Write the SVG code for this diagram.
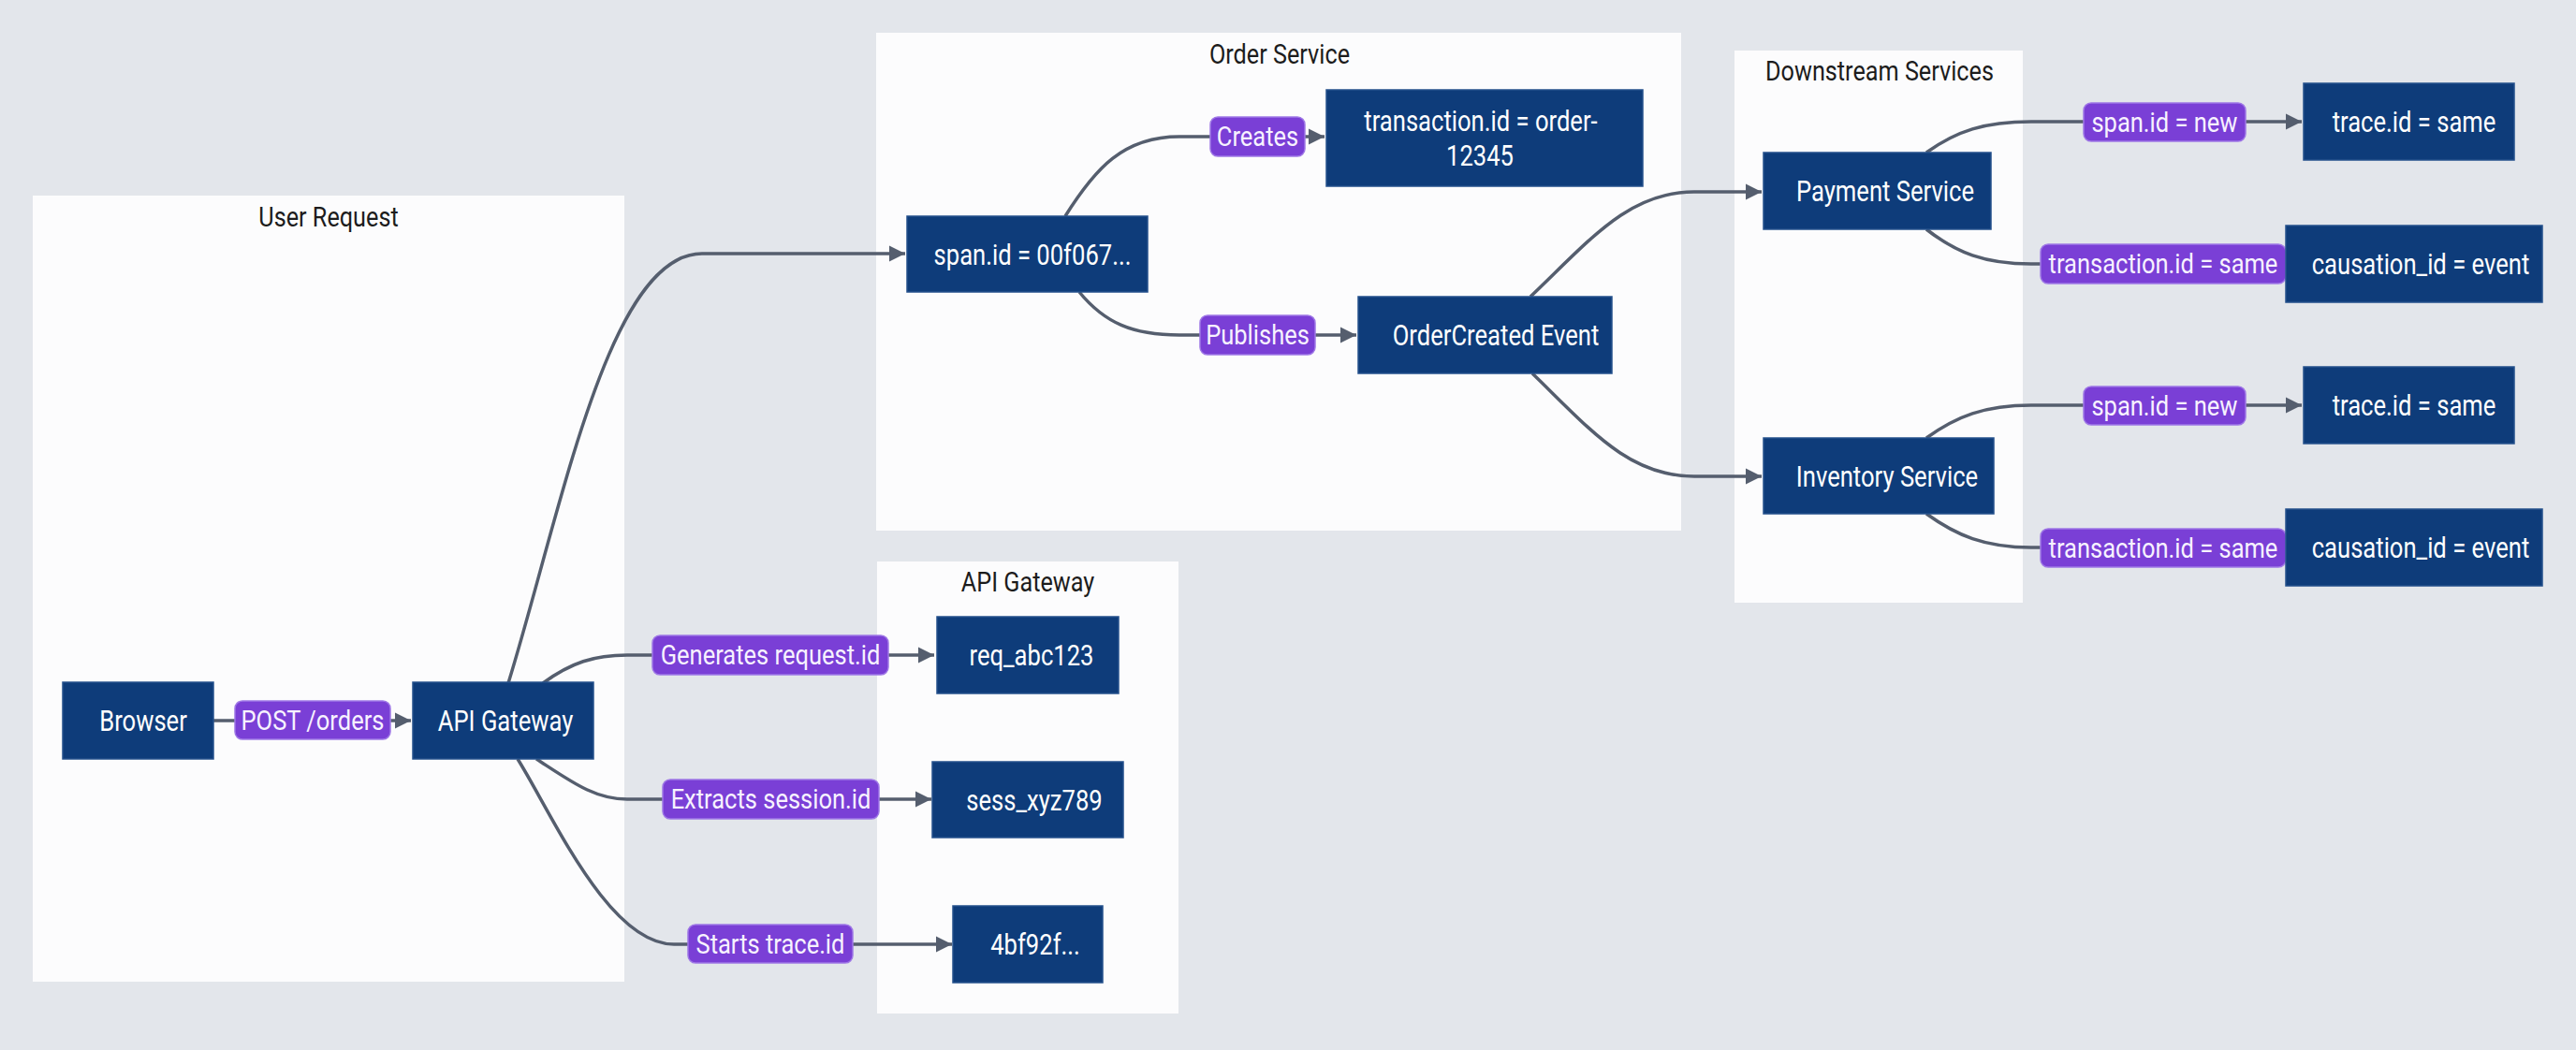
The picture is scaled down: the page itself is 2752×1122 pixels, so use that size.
<svg xmlns="http://www.w3.org/2000/svg" width="2752" height="1122" viewBox="0 0 2752 1122">
<style>
.bg{fill:#e3e6eb}
.ct{fill:#fcfcfd}
.ctt{font-family:Roboto,"Liberation Sans",sans-serif;font-size:29px;fill:#1c1c1c;text-anchor:middle;transform-box:fill-box;transform-origin:center;transform:scaleX(0.87)}
.nd{fill:#0e3c7a;stroke:#24508c;stroke-width:1.5}
.nt{font-family:Roboto,"Liberation Sans",sans-serif;font-size:32px;fill:#ffffff;text-anchor:middle;transform-box:fill-box;transform-origin:center;transform:scaleX(0.8)}
.lb{fill:#7a3fd6;stroke:#9f78e6;stroke-width:1.5}
.lt{font-family:Roboto,"Liberation Sans",sans-serif;font-size:30px;fill:#f7f2ff;text-anchor:middle;transform-box:fill-box;transform-origin:center;transform:scaleX(0.85)}
.cn{fill:none;stroke:#555e6e;stroke-width:3.5}
</style>
<defs>
<marker id="arr" viewBox="0 0 10 10" refX="10" refY="5" markerWidth="5" markerHeight="5" orient="auto" markerUnits="strokeWidth">
<path d="M0,0 L10,5 L0,10 z" fill="#555e6e"/>
</marker>
</defs>
<rect class="bg" x="0" y="0" width="2752" height="1122"/>

<g id="containers">
<g id="c-user-request"><rect class="ct" x="35" y="209" width="632" height="840"/><text class="ctt" x="351" y="242">User Request</text></g>
<g id="c-order-service"><rect class="ct" x="936" y="35" width="860" height="532"/><text class="ctt" x="1367" y="68">Order Service</text></g>
<g id="c-api-gateway"><rect class="ct" x="937" y="600" width="322" height="483"/><text class="ctt" x="1098" y="632">API Gateway</text></g>
<g id="c-downstream"><rect class="ct" x="1853" y="54" width="308" height="590"/><text class="ctt" x="2008" y="86">Downstream Services</text></g>
</g>

<g id="connectors">
<path class="cn" d="M228 770 L439 770" marker-end="url(#arr)"/>
<path class="cn" d="M543 730 C600 545 650 271 750 271 L967 271" marker-end="url(#arr)"/>
<path class="cn" d="M580 730 C610 708 635 700 670 700 L998 700" marker-end="url(#arr)"/>
<path class="cn" d="M573 811 C610 835 635 854 670 854 L995 854" marker-end="url(#arr)"/>
<path class="cn" d="M553 811 C590 870 650 1009 720 1009 L1017 1009" marker-end="url(#arr)"/>
<path class="cn" d="M1138 231 C1170 180 1200 146 1260 146 L1415 146" marker-end="url(#arr)"/>
<path class="cn" d="M1153 312 C1180 345 1210 358 1260 358 L1449 358" marker-end="url(#arr)"/>
<path class="cn" d="M1635 317 C1700 255 1740 205 1810 205 L1882 205" marker-end="url(#arr)"/>
<path class="cn" d="M1637 399 C1700 460 1740 509 1810 509 L1882 509" marker-end="url(#arr)"/>
<path class="cn" d="M2058 163 C2090 140 2120 130 2170 130 L2459 130" marker-end="url(#arr)"/>
<path class="cn" d="M2058 245 C2090 270 2120 282 2170 282 L2442 282" marker-end="url(#arr)"/>
<path class="cn" d="M2058 468 C2090 445 2120 433 2170 433 L2459 433" marker-end="url(#arr)"/>
<path class="cn" d="M2058 549 C2090 572 2120 585 2170 585 L2442 585" marker-end="url(#arr)"/>
</g>

<g id="labels">
<g id="l-post"><rect class="lb" x="251" y="749" width="166" height="41" rx="8"/><text class="lt" x="334" y="780">POST /orders</text></g>
<g id="l-creates"><rect class="lb" x="1293" y="125" width="101" height="42" rx="8"/><text class="lt" x="1343.5" y="156.5">Creates</text></g>
<g id="l-publishes"><rect class="lb" x="1282" y="337" width="123" height="42" rx="8"/><text class="lt" x="1343.5" y="368.5">Publishes</text></g>
<g id="l-generates"><rect class="lb" x="697" y="679" width="252" height="42" rx="8"/><text class="lt" x="823" y="710.5">Generates request.id</text></g>
<g id="l-extracts"><rect class="lb" x="708" y="833" width="231" height="42" rx="8"/><text class="lt" x="823.5" y="864.5">Extracts session.id</text></g>
<g id="l-starts"><rect class="lb" x="735" y="988" width="176" height="41" rx="8"/><text class="lt" x="823" y="1019">Starts trace.id</text></g>
<g id="l-span-new-1"><rect class="lb" x="2226" y="110" width="173" height="41" rx="8"/><text class="lt" x="2312.5" y="141">span.id = new</text></g>
<g id="l-tx-same-1"><rect class="lb" x="2180" y="261" width="262" height="42" rx="8"/><text class="lt" x="2311" y="292.5">transaction.id = same</text></g>
<g id="l-span-new-2"><rect class="lb" x="2226" y="413" width="173" height="41" rx="8"/><text class="lt" x="2312.5" y="444">span.id = new</text></g>
<g id="l-tx-same-2"><rect class="lb" x="2180" y="565" width="262" height="41" rx="8"/><text class="lt" x="2311" y="596">transaction.id = same</text></g>
</g>

<g id="n-browser"><rect class="nd" x="67" y="729" width="161" height="82"/><text class="nt" x="153" y="781.5">Browser</text></g>
<g id="n-api-gateway"><rect class="nd" x="441" y="729" width="193" height="82"/><text class="nt" x="540" y="781.5">API Gateway</text></g>
<g id="n-req"><rect class="nd" x="1001" y="659" width="194" height="82"/><text class="nt" x="1102" y="711.5">req_abc123</text></g>
<g id="n-sess"><rect class="nd" x="996" y="814" width="204" height="81"/><text class="nt" x="1105" y="866">sess_xyz789</text></g>
<g id="n-trace-start"><rect class="nd" x="1018" y="968" width="160" height="82"/><text class="nt" x="1106" y="1020.5">4bf92f...</text></g>
<g id="n-span"><rect class="nd" x="969" y="231" width="257" height="81"/><text class="nt" x="1103" y="283">span.id = 00f067...</text></g>
<g id="n-transaction"><rect class="nd" x="1417" y="96" width="338" height="103"/><text class="nt" x="1582" y="140">transaction.id = order-</text><text class="nt" x="1581" y="177">12345</text></g>
<g id="n-ordercreated"><rect class="nd" x="1451" y="317" width="271" height="82"/><text class="nt" x="1598" y="369.5">OrderCreated Event</text></g>
<g id="n-payment"><rect class="nd" x="1884" y="163" width="243" height="82"/><text class="nt" x="2014" y="215.5">Payment Service</text></g>
<g id="n-inventory"><rect class="nd" x="1884" y="468" width="246" height="81"/><text class="nt" x="2016" y="520">Inventory Service</text></g>
<g id="n-trace-1"><rect class="nd" x="2461" y="89" width="225" height="82"/><text class="nt" x="2579" y="141.5">trace.id = same</text></g>
<g id="n-causation-1"><rect class="nd" x="2442" y="241" width="274" height="82"/><text class="nt" x="2586" y="293.5">causation_id = event</text></g>
<g id="n-trace-2"><rect class="nd" x="2461" y="392" width="225" height="82"/><text class="nt" x="2579" y="444.5">trace.id = same</text></g>
<g id="n-causation-2"><rect class="nd" x="2442" y="544" width="274" height="82"/><text class="nt" x="2586" y="596.5">causation_id = event</text></g>
</svg>
